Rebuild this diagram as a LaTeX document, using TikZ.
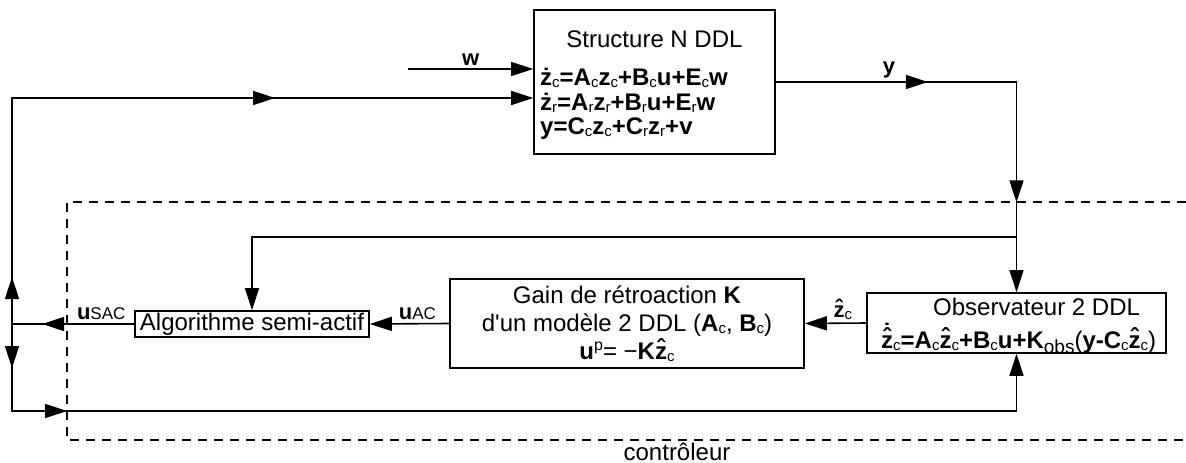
\documentclass[tikz,border=0pt]{standalone}
\usepackage{fontspec}
\setmainfont{Liberation Sans}
\usetikzlibrary{arrows.meta,decorations.markings}
% petits indices / exposants
\newcommand\sub[1]{\raisebox{-2pt}{\fontsize{15}{15}\selectfont\mdseries #1}}
\newcommand\subb[1]{\raisebox{-5pt}{\fontsize{19}{19}\selectfont\mdseries #1}}
\newcommand\expo[1]{\raisebox{9pt}{\fontsize{16}{16}\selectfont\mdseries #1}}
\newcommand\zhat{\ooalign{z\cr\hidewidth\raisebox{.1em}{ˆ}\hidewidth\cr}}
\newcommand\zdothat{\ooalign{z\cr\hidewidth\raisebox{.1em}{ˆ}\hidewidth\cr\hidewidth\raisebox{.32em}{˙}\hidewidth\cr}}
\tikzset{
  >={Triangle[length=22pt,width=14pt]},
  block/.style={draw, line width=1.6pt, inner sep=0pt, align=center,
    font=\fontsize{24}{28}\selectfont},
  lbl/.style={inner sep=0pt, font=\fontsize{24}{28}\selectfont},
  eqn/.style={inner sep=0pt, align=left, font=\fontsize{24}{24.5}\selectfont\bfseries},
  sig/.style={inner sep=3pt, font=\fontsize{22}{22}\selectfont\bfseries},
  wire/.style={draw, line width=1.6pt},
  flow/.style={wire, ->},
  tipat/.style={postaction={decorate, decoration={markings,
    mark=at position #1 with {\arrow{>}}}}},
  ctrl/.style={draw, line width=1.4pt, dash pattern=on 9pt off 7pt}
}
\begin{document}
\begin{tikzpicture}[x=1pt, y=-1pt]
  \useasboundingbox (0,0) rectangle (1186,463);
  % zone controleur
  \draw[ctrl] (1186,202) -- (67,202) -- (67,440) -- (1186,440);
  \node[lbl, anchor=base] (ctrllbl) at (677,460) {contrôleur};
  % blocs
  \node[block, minimum width=241pt, minimum height=144pt] (struct) at (654.5,82) {};
  \node[lbl, anchor=base] (structtitle) at (654.5,47) {Structure N DDL};
  \node[eqn, anchor=west] (structeq) at (540,104) {%
    ż\sub{c}=A\sub{c}z\sub{c}+B\sub{c}u+E\sub{c}w\\
    ż\sub{r}=A\sub{r}z\sub{r}+B\sub{r}u+E\sub{r}w\\
    y=C\sub{c}z\sub{c}+C\sub{r}z\sub{r}+v};
  \node[block, minimum width=354pt, minimum height=89pt] (gain) at (627,323.5)
    {Gain de rétroaction \textbf{K}\\
     d\textquotesingle un modèle 2 DDL (\textbf{A}\sub{c}, \textbf{B}\sub{c})\\
     \textbf{u}\expo{p}= −\textbf{K\zhat}\sub{c}};
  \node[block, minimum width=234pt, minimum height=26pt] (algo) at (252,324) {Algorithme semi-actif};
  \node[block, minimum width=299pt, minimum height=60pt] (obs) at (1016.5,323) {};
  \node[lbl, anchor=base west] (obstitle) at (933,315) {Observateur 2 DDL};
  \node[eqn, anchor=base west] (obseq) at (881,348)
    {\zdothat\sub{c}=A\sub{c}\zhat\sub{c}+B\sub{c}u+K\subb{obs}{\mdseries(}y-C\sub{c}\zhat\sub{c}{\mdseries)}};
  % points de passage
  \coordinate (wstart) at (408,69);
  \coordinate (junc) at (12,324);
  \coordinate (topleft) at (12,98);
  \coordinate (botleft) at (12,411);
  \coordinate (tap) at (1016.5,237);
  % liaisons
  \draw[flow] (wstart) -- node[sig, above]{w} (wstart -| struct.west);
  \draw[flow, tipat=152pt, tipat=361pt] (struct.east)
    -- node[sig, above, pos=.47]{y} (struct.east -| obs.north) -- (obs.north);
  \draw[wire, tipat=92pt] (algo.west)
    -- node[sig, above, pos=.27]{u{\fontsize{17}{17}\selectfont\mdseries SAC}} (junc);
  \draw[flow, tipat=47pt, tipat=489pt] (junc) -- (topleft) -- (topleft -| struct.west);
  \draw[flow, tipat=44pt, tipat=142pt] (junc) -- (botleft) -- (botleft -| obs.south) -- (obs.south);
  \draw[flow] (tap) -- (tap -| algo.north) -- (algo.north);
  \draw[flow] (gain.west) -- node[sig, above, pos=.4]{u{\fontsize{17}{17}\selectfont\mdseries AC}} (algo.east);
  \draw[flow] (obs.west) -- node[sig, above, pos=.38]{\zhat\sub{c}} (gain.east);
\end{tikzpicture}
\end{document}
